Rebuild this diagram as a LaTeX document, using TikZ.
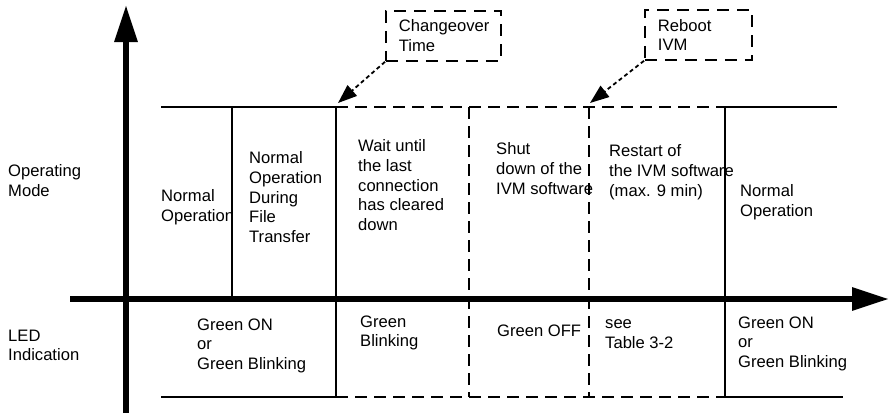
\documentclass[tikz,border=0pt]{standalone}
\usepackage{fontspec}
\setmainfont{Liberation Sans}
\usepackage{tikz}
\usetikzlibrary{shapes,arrows,arrows.meta,positioning,calc}

\begin{document}
\begin{tikzpicture}[x=1pt, y=-1pt,
    txt/.style={anchor=north west, inner sep=0pt, align=left, font=\fontsize{16.6}{19.7}\selectfont, execute at begin node=\strut},
    axis/.style={line width=6pt, -{Triangle[length=37pt,width=22pt]}},
    solidline/.style={line width=1.8pt},
    dashline/.style={line width=1.8pt, dash pattern=on 12pt off 7pt},
    callout/.style={draw, line width=1.8pt, dash pattern=on 12pt off 8pt, anchor=north west, inner xsep=13pt, inner ysep=0pt, minimum height=50pt, align=left, font=\fontsize{16.6}{19.7}\selectfont},
    callarrow/.style={line width=1.8pt, dash pattern=on 4pt off 3pt, -{Triangle[length=19pt,width=14pt]}}]
    \useasboundingbox (0,0) rectangle (889,415);

    \coordinate (yfoot) at (126,413);
    \coordinate (ytip) at (126,5);
    \coordinate (xfoot) at (70,299);
    \coordinate (xtip) at (889,299);
    \draw[axis] (yfoot) -- (ytip);
    \draw[axis] (xfoot) -- (xtip);

    \coordinate (tl) at (161,107);
    \coordinate (bl) at (161,397);
    \coordinate (ta) at (232,107);
    \coordinate (ma) at (232,299);
    \coordinate (tb) at (336,107);
    \coordinate (bb) at (336,397);
    \coordinate (tc) at (469,107);
    \coordinate (bc) at (469,397);
    \coordinate (td) at (589,107);
    \coordinate (bd) at (589,397);
    \coordinate (te) at (725,107);
    \coordinate (be) at (725,397);
    \coordinate (tr) at (837,107);
    \coordinate (br) at (843,397);

    \draw[solidline] (tl) -- (tb);
    \draw[solidline] (bl) -- (bb);
    \draw[solidline] (ta) -- (ma);
    \draw[solidline] (tb) -- (bb);
    \draw[dashline] (tb) -- (te);
    \draw[dashline] (bb) -- (be);
    \draw[dashline] (tc) -- (bc);
    \draw[dashline] (td) -- (bd);
    \draw[solidline] (te) -- (be);
    \draw[solidline] (te) -- (tr);
    \draw[solidline] (be) -- (br);

    \node[txt] (opmode) at (8,164.4) {Operating\\Mode};
    \node[txt] (led) at (8,329.4) {LED\\Indication};
    \node[txt] (normal) at (161,189.4) {Normal\\Operation};
    \node[txt] (transfer) at (249,151.4) {Normal\\Operation\\During\\File\\Transfer};
    \node[txt] (wait) at (358,139.4) {Wait until\\the last\\connection\\has cleared\\down};
    \node[txt] (shut) at (496,142.4) {Shut\\down of the\\IVM software};
    \node[txt] (restart) at (609,144.4) {Restart of\\the IVM software\\(max. 9 min)};
    \node[txt] (normalb) at (740,184.4) {Normal\\Operation};
    \node[txt] (ledon) at (197,318.4) {Green ON\\or\\Green Blinking};
    \node[txt] (ledblink) at (360,315.4) {Green\\Blinking};
    \node[txt] (ledoff) at (497,322.4) {Green OFF};
    \node[txt] (ledsee) at (605,319.4) {see\\Table 3-2};
    \node[txt] (ledonb) at (738,316.4) {Green ON\\or\\Green Blinking};

    \node[callout, text width=89pt] (chg) at (385,10) {Changeover\\Time};
    \node[callout, text width=81pt] (reboot) at (644,9) {Reboot\\IVM};
    \coordinate (chgtip) at (338,103);
    \coordinate (reboottip) at (590,103);
    \draw[callarrow] (chg.south west) -- (chgtip);
    \draw[callarrow] (reboot.south west) -- (reboottip);
\end{tikzpicture}
\end{document}
